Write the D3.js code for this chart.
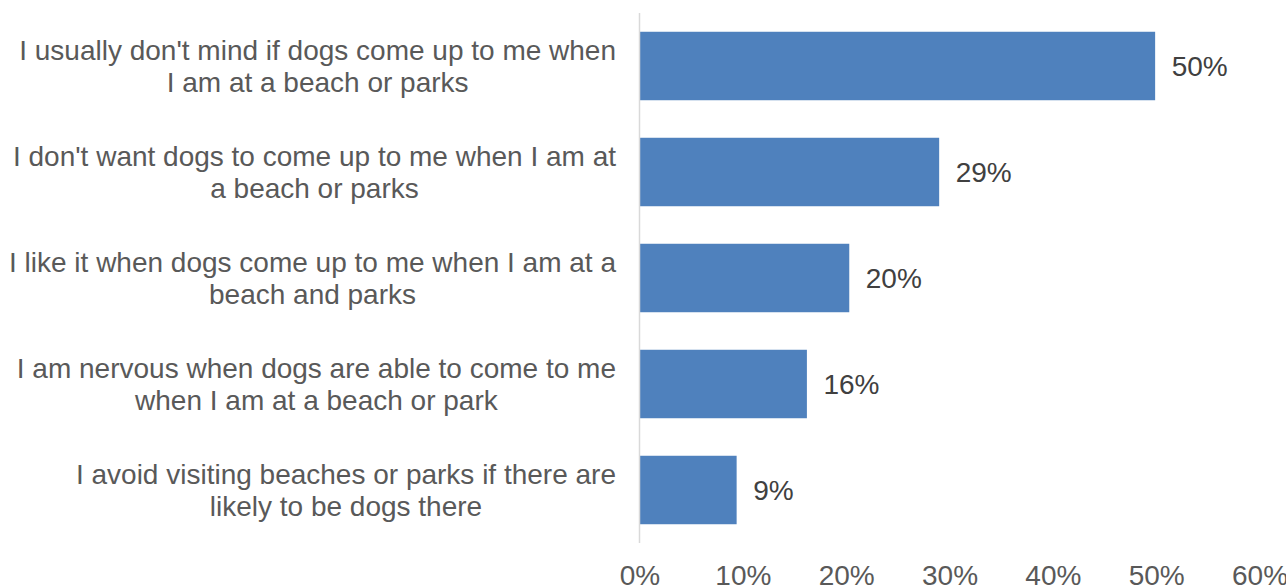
<!DOCTYPE html>
<html>
<head>
<meta charset="utf-8">
<script src="https://cdn.jsdelivr.net/npm/d3@7/dist/d3.min.js"></script>
<style>
  html, body { margin: 0; padding: 0; background: #fff; }
  svg { display: block; font-family: "Liberation Sans", Arial, sans-serif; }
</style>
</head>
<body>
<svg id="chart" width="1286" height="588"></svg>
<script>
const categories = [
  "I usually don't mind if dogs come up to me when I am at a beach or parks",
  "I don't want dogs to come up to me when I am at a beach or parks",
  "I like it when dogs come up to me when I am at a beach and parks",
  "I am nervous when dogs are able to come to me when I am at a beach or park",
  "I avoid visiting beaches or parks if there are likely to be dogs there"
];
const categoryLines = [
  ["I usually don't mind if dogs come up to me when", "I am at a beach or parks"],
  ["I don't want dogs to come up to me when I am at", "a beach or parks"],
  ["I like it when dogs come up to me when I am at a", "beach and parks"],
  ["I am nervous when dogs are able to come to me", "when I am at a beach or park"],
  ["I avoid visiting beaches or parks if there are", "likely to be dogs there"]
];
const values = [0.499, 0.290, 0.203, 0.162, 0.094];
const tickValues = [0, 0.1, 0.2, 0.3, 0.4, 0.5, 0.6];

const FS = "28px";
const svg = d3.select("#chart");
const x = d3.scaleLinear().domain([0, 0.6]).range([639.5, 1259.5]);
const y = d3.scaleBand().domain(categories).range([13, 543])
  .paddingInner(0.354).paddingOuter(0.177);
const fmt = d3.format(".0%");

// bars
svg.append("g").selectAll("rect").data(categories).join("rect")
  .attr("x", x(0))
  .attr("y", d => y(d))
  .attr("width", (d, i) => x(values[i]) - x(0))
  .attr("height", y.bandwidth())
  .attr("fill", "#4F81BD");

// vertical axis line
svg.append("line")
  .attr("x1", x(0)).attr("x2", x(0))
  .attr("y1", 13).attr("y2", 543)
  .attr("stroke", "#D9D9D9").attr("stroke-width", 1.5);

// x axis tick labels
const xAxis = d3.axisBottom(x).tickValues(tickValues).tickFormat(fmt).tickSize(0).tickPadding(0);
const gx = svg.append("g").attr("transform", "translate(0,585)").call(xAxis);
gx.select(".domain").remove();
gx.selectAll("text")
  .attr("font-size", FS)
  .attr("font-family", "Liberation Sans, Arial, sans-serif")
  .attr("fill", "#595959")
  .attr("y", 0)
  .attr("dy", "0");

// value labels
svg.append("g").selectAll("text").data(categories).join("text")
  .attr("x", (d, i) => x(values[i]) + 16.5)
  .attr("y", d => y(d) + y.bandwidth() / 2)
  .attr("dy", "0.35em")
  .attr("font-size", FS)
  .attr("fill", "#404040")
  .text((d, i) => fmt(values[i]));

// category labels: block right-aligned, lines centered within block
const labelRight = 616;
const lineH = 32;
const lg = svg.append("g");
categories.forEach((c, i) => {
  const g = lg.append("g");
  const lines = categoryLines[i];
  const cy = y(c) + y.bandwidth() / 2;
  const texts = lines.map((t, j) => g.append("text")
    .attr("y", cy + (j - (lines.length - 1) / 2) * lineH)
    .attr("dy", "0.35em")
    .attr("font-size", FS)
    .attr("fill", "#595959")
    .attr("text-anchor", "middle")
    .text(t));
  const maxW = d3.max(texts, t => t.node().getComputedTextLength());
  texts.forEach(t => t.attr("x", labelRight - maxW / 2));
});
</script>
</body>
</html>
